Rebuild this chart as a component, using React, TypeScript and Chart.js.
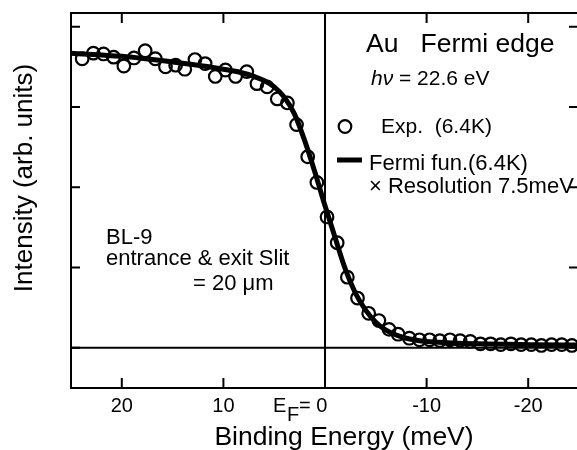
import { useEffect, useRef } from "react";
import { Chart, registerables } from "chart.js";

Chart.register(...registerables);

// Experimental points (binding energy in meV, intensity in arb. units)
const expEnergy = [
  23.9, 22.8, 21.8, 20.8, 19.8, 18.8, 17.7, 16.7, 15.7, 14.7, 13.8, 12.8, 11.8,
  10.8, 9.8, 8.8, 7.7, 6.7, 5.7, 4.7, 3.7, 2.8, 1.7, 0.8, -0.2, -1.2, -2.2,
  -3.2, -4.3, -5.3, -6.3, -7.2, -8.3, -9.3, -10.3, -11.3, -12.3, -13.3, -14.3,
  -15.3, -16.3, -17.3, -18.3, -19.3, -20.3, -21.3, -22.3, -23.3, -24.3,
];
const expIntensity = [
  3.6, 3.67, 3.66, 3.62, 3.51, 3.61, 3.7, 3.6, 3.5, 3.52, 3.47, 3.59, 3.54,
  3.38, 3.46, 3.38, 3.44, 3.29, 3.25, 3.1, 3.05, 2.78, 2.38, 2.06, 1.63, 1.31,
  0.88, 0.62, 0.43, 0.34, 0.23, 0.17, 0.12, 0.1, 0.1, 0.09, 0.1, 0.09, 0.08,
  0.05, 0.05, 0.04, 0.05, 0.04, 0.04, 0.03, 0.04, 0.04, 0.03,
];

// Fit curve: Fermi function (6.4K) x resolution 7.5 meV
const fitEnergy = [
  25, 20, 15, 12, 10, 8, 7, 6, 5, 4, 3, 2, 1, 0, -1, -2, -3, -4, -5, -6, -7,
  -8, -9, -10, -12, -15, -20, -25,
];
const fitIntensity = [
  3.67, 3.63, 3.56, 3.51, 3.47, 3.42, 3.38, 3.33, 3.25, 3.12, 2.91, 2.58, 2.19,
  1.77, 1.37, 0.98, 0.68, 0.47, 0.32, 0.22, 0.16, 0.12, 0.095, 0.08, 0.065,
  0.05, 0.04, 0.035,
];

const xTickValues = [20, 10, 0, -10, -20];
const xTickLabels = ["20", "10", "E_F= 0", "-10", "-20"];
const yTickValues = [0, 1, 2, 3, 4];

const FONT = '"Liberation Sans", Arial, Helvetica, sans-serif';

const decor = {
  id: "decor",
  beforeDatasetsDraw(chart: any) {
    const { ctx, chartArea: a, scales } = chart;
    const x0 = scales.x.getPixelForValue(0);
    const y0 = scales.y.getPixelForValue(0);
    ctx.save();
    ctx.strokeStyle = "#000";
    ctx.lineWidth = 2;
    ctx.beginPath();
    ctx.moveTo(x0, a.top);
    ctx.lineTo(x0, a.bottom);
    ctx.moveTo(a.left, y0);
    ctx.lineTo(a.right, y0);
    ctx.stroke();
    ctx.restore();
  },
  afterDraw(chart: any) {
    const { ctx, chartArea: a, scales } = chart;
    const xs = scales.x;
    const ys = scales.y;
    ctx.save();
    ctx.strokeStyle = "#000";
    ctx.fillStyle = "#000";
    ctx.lineWidth = 2;
    // frame
    ctx.strokeRect(a.left, a.top, a.right - a.left, a.bottom - a.top);
    // ticks (inward, all four sides)
    ctx.beginPath();
    xTickValues.forEach((v) => {
      const px = xs.getPixelForValue(v);
      ctx.moveTo(px, a.bottom);
      ctx.lineTo(px, a.bottom - 10);
      ctx.moveTo(px, a.top);
      ctx.lineTo(px, a.top + 10);
    });
    yTickValues.forEach((v) => {
      const py = ys.getPixelForValue(v);
      ctx.moveTo(a.left, py);
      ctx.lineTo(a.left + 9, py);
      ctx.moveTo(a.right, py);
      ctx.lineTo(a.right - 10, py);
    });
    ctx.stroke();

    // x tick labels
    ctx.textBaseline = "alphabetic";
    const tickFont = `20px ${FONT}`;
    xTickValues.forEach((v, i) => {
      const px = xs.getPixelForValue(v);
      const label = xTickLabels[i];
      if (label.startsWith("E_F")) {
        ctx.textAlign = "left";
        ctx.font = tickFont;
        ctx.fillText("E", px - 52, 412);
        ctx.fillText("F", px - 38, 421);
        ctx.fillText("= 0", px - 26, 412);
      } else {
        ctx.textAlign = "center";
        ctx.font = tickFont;
        ctx.fillText(label, px, 412);
      }
    });

    // axis titles
    ctx.textAlign = "center";
    ctx.font = `26.5px ${FONT}`;
    ctx.fillText("Binding Energy (meV)", 344, 445);
    ctx.save();
    ctx.translate(32, 178);
    ctx.rotate(-Math.PI / 2);
    ctx.font = `26px ${FONT}`;
    ctx.fillText("Intensity (arb. units)", 0, 0);
    ctx.restore();

    // annotations
    ctx.textAlign = "left";
    ctx.font = `26.5px ${FONT}`;
    ctx.fillText("Au   Fermi edge", 366, 52);
    ctx.font = `italic 21px ${FONT}`;
    ctx.fillText("h\u03bd", 371, 85);
    ctx.font = `21px ${FONT}`;
    ctx.fillText("= 22.6 eV", 399, 85);

    // legend
    ctx.beginPath();
    ctx.lineWidth = 2.2;
    ctx.arc(345, 126.5, 6.3, 0, Math.PI * 2);
    ctx.stroke();
    ctx.font = `21px ${FONT}`;
    ctx.fillText("Exp.  (6.4K)", 381, 133);
    ctx.beginPath();
    ctx.lineWidth = 5;
    ctx.moveTo(337, 160);
    ctx.lineTo(362, 160);
    ctx.stroke();
    ctx.font = `22px ${FONT}`;
    ctx.fillText("Fermi fun.(6.4K)", 369, 170);
    ctx.fillText("\u00d7 Resolution 7.5meV", 369, 193);

    // beamline note
    ctx.font = `22px ${FONT}`;
    ctx.fillText("BL-9", 106, 244);
    ctx.fillText("entrance & exit Slit", 106, 265);
    ctx.fillText("= 20 \u03bcm", 193, 290);

    ctx.restore();
  },
};

export default function App() {
  const canvasRef = useRef<HTMLCanvasElement | null>(null);

  useEffect(() => {
    const canvas = canvasRef.current;
    if (!canvas) return;
    const chart = new Chart(canvas, {
      type: "scatter",
      data: {
        datasets: [
          {
            label: "Fermi fun.(6.4K) × Resolution 7.5meV",
            data: fitEnergy.map((e, i) => ({ x: e, y: fitIntensity[i] })),
            showLine: true,
            borderColor: "#000",
            backgroundColor: "#000",
            borderWidth: 5,
            pointRadius: 0,
            cubicInterpolationMode: "monotone",
            fill: false,
            order: 0,
          } as any,
          {
            label: "Exp. (6.4K)",
            data: expEnergy.map((e, i) => ({ x: e, y: expIntensity[i] })),
            showLine: false,
            borderColor: "#000",
            backgroundColor: "rgba(0,0,0,0)",
            pointBackgroundColor: "rgba(0,0,0,0)",
            pointBorderColor: "#000",
            pointBorderWidth: 2.2,
            pointRadius: 6.3,
            order: 1,
          } as any,
        ],
      },
      options: {
        responsive: false,
        animation: false,
        devicePixelRatio: 1,
        events: [],
        layout: { padding: { left: 71, top: 13, right: 11, bottom: 62 } },
        scales: {
          x: { type: "linear", min: -25, max: 25, reverse: true, display: false },
          y: { type: "linear", min: -0.5, max: 4.17, display: false },
        },
        plugins: {
          legend: { display: false },
          tooltip: { enabled: false },
          title: { display: false },
        },
      },
      plugins: [decor],
    });
    return () => chart.destroy();
  }, []);

  return (
    <div
      style={{
        position: "fixed",
        left: 0,
        top: 0,
        width: 577,
        height: 450,
        overflow: "hidden",
        background: "#fff",
      }}
    >
      <canvas ref={canvasRef} width={590} height={450} style={{ display: "block" }} />
    </div>
  );
}
